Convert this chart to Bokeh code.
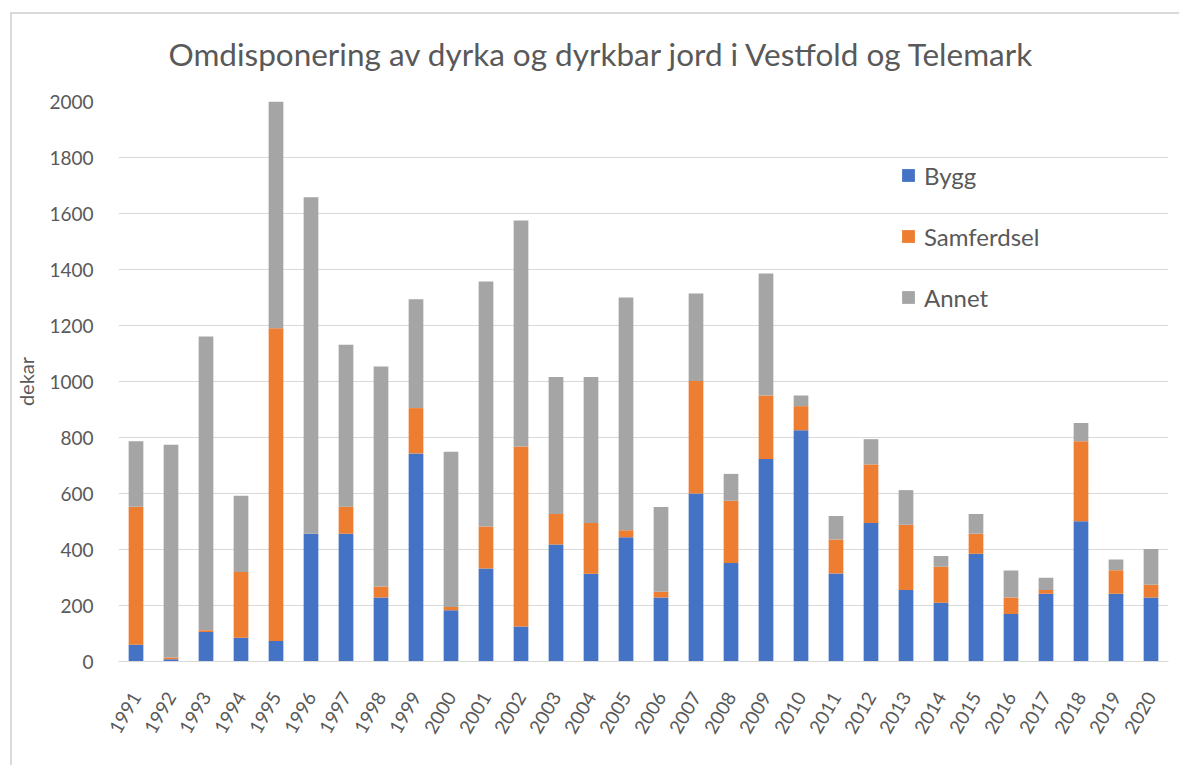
import math
from bokeh.plotting import figure
from bokeh.models import ColumnDataSource, FixedTicker, Legend, LegendItem, Label, InlineStyleSheet
from bokeh.embed import file_html
from bokeh.resources import INLINE

years = [str(y) for y in range(1991, 2021)]
# Cumulative tops
bygg = [60, 8, 105, 85, 73, 456, 456, 229, 743, 183, 332, 125, 418, 313, 444,
        229, 600, 352, 723, 826, 314, 495, 255, 210, 385, 170, 242, 501, 242, 229]
top_samf = [553, 14, 112, 320, 1190, 456, 553, 268, 905, 195, 482, 768, 527, 495, 469,
            249, 1002, 574, 950, 912, 436, 704, 488, 338, 456, 229, 255, 787, 326, 274]
top_annet = [787, 774, 1161, 592, 2000, 1658, 1131, 1054, 1294, 749, 1357, 1575, 1016, 1016, 1300,
             552, 1314, 670, 1386, 950, 520, 794, 612, 377, 527, 325, 299, 852, 364, 402]
samferdsel = [t - b for t, b in zip(top_samf, bygg)]
annet = [t - s for t, s in zip(top_annet, top_samf)]
series = ["Bygg", "Samferdsel", "Annet"]
colors = ["#4472C4", "#ED7D31", "#A5A5A5"]
y_ticks = list(range(0, 2001, 200))

src = ColumnDataSource(dict(year=years, Bygg=bygg, Samferdsel=samferdsel, Annet=annet))

FONT = "Lato"
GREY = "#595959"

p = figure(x_range=years, y_range=(0, 2000), width=1179, height=765,
           output_backend="svg", toolbar_location=None,
           title="Omdisponering av dyrka og dyrkbar jord i Vestfold og Telemark",
           min_border_left=118, min_border_right=11, min_border_top=101, min_border_bottom=104)

renderers = p.vbar_stack(series, x="year", width=0.42, color=colors, source=src, line_width=0)

p.title.text_font = FONT
p.title.text_font_size = "31.5px"
p.title.text_font_style = "normal"
p.title.text_color = GREY
p.title.align = "left"
p.title.offset = 50
p.title.standoff = 57

p.outline_line_color = None
p.xgrid.grid_line_color = None
p.ygrid.grid_line_color = "#D9D9D9"
p.ygrid.grid_line_width = 1
p.yaxis.ticker = FixedTicker(ticks=y_ticks)

p.yaxis.axis_line_color = None
p.yaxis.major_tick_line_color = None
p.yaxis.minor_tick_line_color = None
p.yaxis.major_label_text_font = FONT
p.yaxis.major_label_text_font_size = "19px"
p.yaxis.major_label_text_color = GREY
p.yaxis.major_label_standoff = 19
p.yaxis.axis_label = "dekar"
p.yaxis.axis_label_text_font = FONT
p.yaxis.axis_label_text_font_size = "20px"
p.yaxis.axis_label_text_font_style = "normal"
p.yaxis.axis_label_text_color = GREY
p.yaxis.axis_label_standoff = 8

p.xaxis.axis_line_color = "#D9D9D9"
p.xaxis.major_tick_line_color = None
p.xaxis.minor_tick_line_color = None
p.xaxis.major_label_orientation = math.pi / 3
p.xaxis.major_label_text_font = FONT
p.xaxis.major_label_text_font_size = "19px"
p.xaxis.major_label_text_color = GREY
p.xaxis.major_label_standoff = 26

p.x_range.range_padding = 0
p.x_range.group_padding = 0

items = [LegendItem(label=s, renderers=[r]) for s, r in zip(series, renderers)]
legend = Legend(items=items, location=(782, 349), orientation="vertical",
                glyph_width=16, glyph_height=16, label_height=30, spacing=31,
                label_standoff=8, padding=0, margin=0,
                border_line_color=None, background_fill_alpha=0,
                label_text_font=FONT, label_text_font_size="24px", label_text_color=GREY)
p.add_layout(legend)

# caption line of the surrounding document (cut off at the top in the source)
caption = Label(x=-116, y=652, x_units="screen", y_units="screen",
                text="Fylkesmannens landbruksavdeling (1991-2004).",
                text_font=FONT, text_font_size="11px", text_font_style="italic",
                text_color="#000000", text_baseline="alphabetic", text_align="left")
p.add_layout(caption)

# light grey chart-area border (left and top edges)
p.stylesheets = [InlineStyleSheet(css="""
:host { position: relative; }
:host::after {
  content: ""; position: absolute; left: 10px; top: 12px; right: 0px; bottom: 0px;
  border-left: 2px solid #D9D9D9; border-top: 2px solid #D9D9D9;
  pointer-events: none;
}
""")]

open("out.html", "w").write(file_html(p, INLINE))
